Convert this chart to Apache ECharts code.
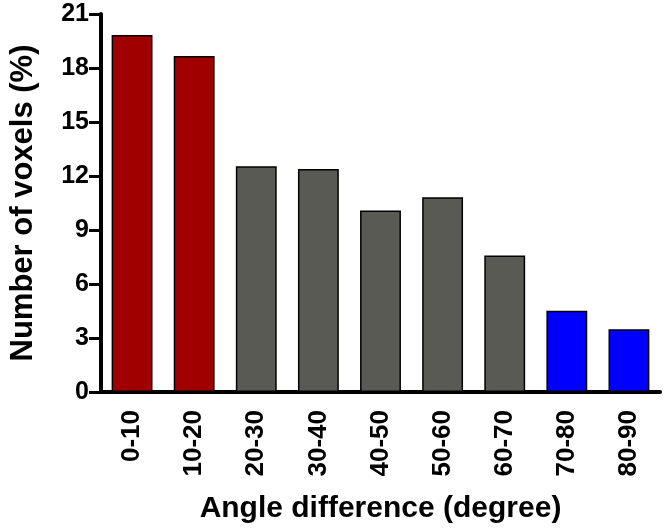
<!DOCTYPE html>
<html>
<head>
<meta charset="utf-8">
<script src="https://cdn.jsdelivr.net/npm/echarts@6/dist/echarts.min.js"></script>
<style>html,body{margin:0;padding:0;background:#fff}#c{width:666px;height:529px}</style>
</head>
<body>
<div id="c"></div>
<script>
const categories = ['0-10','10-20','20-30','30-40','40-50','50-60','60-70','70-80','80-90'];
const values = [19.83, 18.67, 12.54, 12.39, 10.08, 10.82, 7.59, 4.52, 3.49];
const barColors = ['#A00000','#A00000','#5A5A55','#5A5A55','#5A5A55','#5A5A55','#5A5A55','#0000FF','#0000FF'];
const yTicks = [0, 3, 6, 9, 12, 15, 18, 21];

const font = 'Liberation Sans, Arial, sans-serif';
const chart = echarts.init(document.getElementById('c'));
chart.setOption({
  animation: false,
  grid: { left: 92, right: 6, top: 14, bottom: 136, containLabel: false },
  xAxis: {
    type: 'category',
    data: categories,
    name: 'Angle difference (degree)',
    nameLocation: 'middle',
    nameGap: 102,
    nameTextStyle: { fontFamily: font, fontWeight: 'bold', fontSize: 30, color: '#000' },
    axisLine: { lineStyle: { color: '#000', width: 4 } },
    axisTick: { alignWithLabel: true, length: 12, lineStyle: { color: '#000', width: 3 } },
    axisLabel: { rotate: 90, margin: 18, fontFamily: font, fontWeight: 'bold', fontSize: 26, color: '#000' }
  },
  yAxis: {
    type: 'value',
    min: yTicks[0],
    max: yTicks[yTicks.length - 1],
    interval: 3,
    name: 'Number of voxels (%)',
    nameLocation: 'middle',
    nameGap: 62,
    nameTextStyle: { fontFamily: font, fontWeight: 'bold', fontSize: 31, color: '#000' },
    axisLine: { show: true, lineStyle: { color: '#000', width: 4 } },
    axisTick: { show: true, length: 12, lineStyle: { color: '#000', width: 3 } },
    splitLine: { show: false },
    axisLabel: { margin: 12, fontFamily: font, fontWeight: 'bold', fontSize: 25, color: '#000' }
  },
  series: [{
    type: 'bar',
    barWidth: '65.8%',
    data: values.map((v, i) => ({ value: v, itemStyle: { color: barColors[i] } })),
    itemStyle: { borderColor: '#000', borderWidth: 1.5 }
  }]
});
</script>
</body>
</html>
